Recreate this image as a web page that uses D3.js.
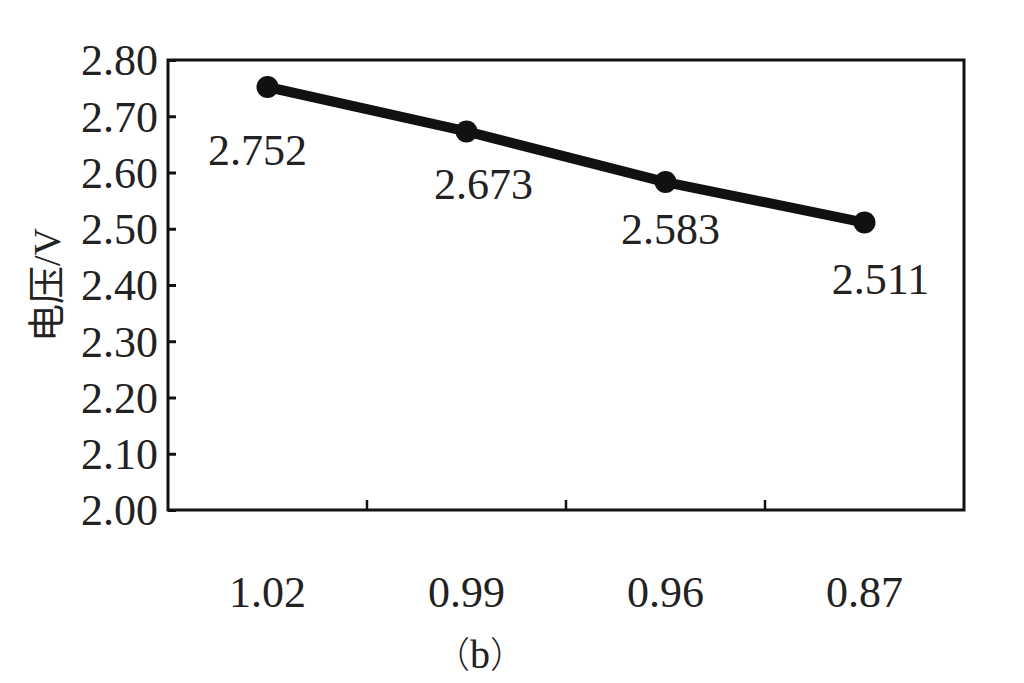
<!DOCTYPE html>
<html><head><meta charset="utf-8">
<script src="https://cdn.jsdelivr.net/npm/d3@7"></script>
<style>body{margin:0;background:#fff}svg{display:block}</style>
</head><body>
<svg id="c" width="1024" height="683"></svg>
<script>
const categories = ["1.02", "0.99", "0.96", "0.87"];
const voltages = [2.752, 2.673, 2.583, 2.511];
const pointLabels = ["2.752", "2.673", "2.583", "2.511"];
const yTicks = [2.0, 2.1, 2.2, 2.3, 2.4, 2.5, 2.6, 2.7, 2.8];
const yTitle = "电压/V";
const captionParts = ["（", "b", "）"];

const svg = d3.select("#c");
const L = 168, R = 964, T = 60, B = 510;
const font = "'Liberation Serif','Times New Roman','Noto Sans CJK SC',serif";

const x = d3.scaleBand().domain(categories).range([L, R]);
const y = d3.scaleLinear().domain([2.0, 2.8]).range([B, T]);

// frame
svg.append("rect").attr("x", L).attr("y", T).attr("width", R - L).attr("height", B - T)
  .attr("fill", "none").attr("stroke", "#111").attr("stroke-width", 3);

// y axis
const ya = svg.append("g").attr("transform", `translate(${L},0)`)
  .call(d3.axisRight(y).tickValues(yTicks).tickFormat(d3.format(".2f")).tickSize(8).tickPadding(0));
ya.select(".domain").remove();
ya.selectAll("line").attr("stroke", "#111").attr("stroke-width", 3);
ya.selectAll("text").attr("x", -10).attr("text-anchor", "end")
  .style("font-family", font).style("font-size", "44px").attr("fill", "#222").attr("dy", "0.34em");

// x axis (ticks at band boundaries, inward)
const xa = svg.append("g").attr("transform", `translate(0,${B})`);
xa.selectAll("line.tk").data(categories.slice(1)).join("line")
  .attr("x1", d => x(d)).attr("x2", d => x(d)).attr("y1", 0).attr("y2", -10)
  .attr("stroke", "#111").attr("stroke-width", 2.5);
xa.selectAll("text").data(categories).join("text")
  .attr("x", d => x(d) + x.bandwidth() / 2).attr("y", 97)
  .attr("text-anchor", "middle")
  .style("font-family", font).style("font-size", "44px").attr("fill", "#222")
  .text(d => d);

// line
const pts = categories.map((c, i) => [x(c) + x.bandwidth() / 2, y(voltages[i])]);
svg.append("path").attr("d", d3.line()(pts))
  .attr("fill", "none").attr("stroke", "#111").attr("stroke-width", 10).attr("stroke-linejoin", "round");
svg.selectAll("circle.pt").data(pts).join("circle")
  .attr("cx", d => d[0]).attr("cy", d => d[1]).attr("r", 11).attr("fill", "#111");

// point labels
const offs = [[-10, 78], [17, 68], [5, 62], [16, 71]];
svg.selectAll("text.pl").data(pts).join("text")
  .attr("x", (d, i) => d[0] + offs[i][0]).attr("y", (d, i) => d[1] + offs[i][1])
  .attr("text-anchor", "middle")
  .style("font-family", font).style("font-size", "44px").attr("fill", "#222")
  .text((d, i) => pointLabels[i]);

// y title
svg.append("text").attr("transform", `translate(60,${(T + B) / 2}) rotate(-90)`)
  .attr("text-anchor", "middle")
  .style("font-family", font).style("font-size", "38px").attr("fill", "#222")
  .text(yTitle);

// caption
const cap = svg.append("text").attr("x", 480).attr("y", 668).attr("text-anchor", "middle")
  .style("font-size", "36px").attr("fill", "#222");
cap.selectAll("tspan").data(captionParts).join("tspan")
  .style("font-family", (d, i) => i === 1 ? "'Liberation Serif',serif" : "'Noto Sans CJK SC',serif")
  .style("font-weight", (d, i) => i === 1 ? "400" : "300")
  .style("font-size", (d, i) => i === 1 ? "40px" : "36px")
  .text(d => d);
</script>
</body></html>
